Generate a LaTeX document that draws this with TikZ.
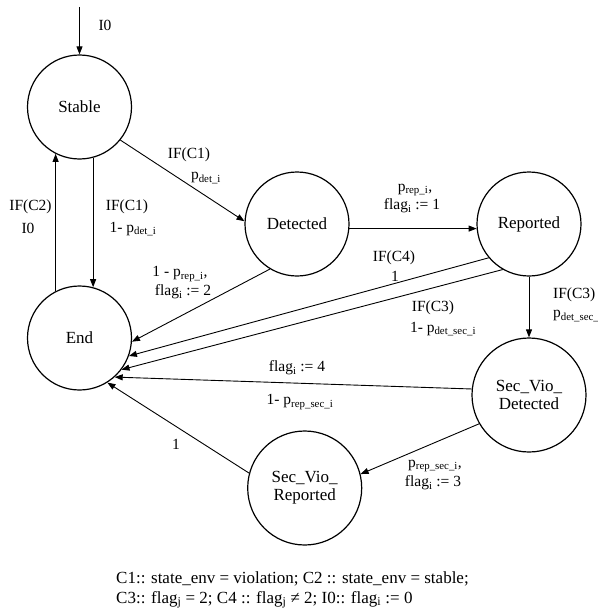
\documentclass[tikz,border=0pt]{standalone}
\usepackage{fontspec}
\setmainfont{Liberation Serif}
\usetikzlibrary{arrows.meta}

\newcommand{\idx}[1]{\textsubscript{#1}}

\begin{document}
\begin{tikzpicture}[x=1pt,y=-1pt,
    state/.style={draw,circle,line width=1.2pt,minimum size=104pt,inner sep=0pt,
        font=\fontsize{17}{18}\selectfont,align=center},
    bigstate/.style={state,minimum size=114pt},
    trans/.style={-{Triangle[length=8pt,width=6pt]},line width=0.9pt},
    lbl/.style={font=\fontsize{15.5}{17}\selectfont,inner sep=0pt}]
    \useasboundingbox (0,0) rectangle (597,610);

    % States
    \node[state] (stable) at (79.5,107) {Stable};
    \node[state] (endst) at (79.5,338) {End};
    \node[state] (detected) at (297,224) {Detected};
    \node[state] (reported) at (529,224) {Reported};
    \node[bigstate] (secdet) at (529,395) {Sec\_Vio\_\\Detected};
    \node[bigstate] (secrep) at (304.7,488) {Sec\_Vio\_\\Reported};

    % Initial transition
    \coordinate (init) at (79.5,7);
    \draw[trans] (init) -- (stable.north);
    \node[lbl] at (105,25) {I0};

    % Stable <-> End
    \draw[trans] (stable.-75) -- (endst.75);
    \draw[trans] (endst.117) -- (stable.-117);
    \node[lbl] at (30.5,207) {IF(C2)};
    \node[lbl] at (28,228) {I0};
    \node[lbl] at (127,207) {IF(C1)};
    \node[lbl] at (133,229) {1- p\idx{det\_i}};

    % Stable -> Detected
    \draw[trans] (stable.-39) -- (detected.177);
    \node[lbl] at (189,155) {IF(C1)};
    \node[lbl] at (206,178) {p\idx{det\_i}};

    % Detected -> Reported / End
    \draw[trans] (detected.-5) -- (reported.185);
    \node[lbl] at (415,190) {p\idx{rep\_i},};
    \node[lbl] at (412,206) {flag\idx{i} := 1};
    \draw[trans] (detected.-121) -- (endst.-4);
    \node[lbl] at (180,274) {1 - p\idx{rep\_i},};
    \node[lbl] at (183,292) {flag\idx{i} := 2};

    % Reported -> End
    \draw[trans] (reported.-140) -- (endst.-20);
    \node[lbl] at (394,258) {IF(C4)};
    \node[lbl] at (395,276) {1};
    \draw[trans] (reported.-120) -- (endst.-37);
    \node[lbl] at (433,308) {IF(C3)};
    \node[lbl] at (443,329) {1- p\idx{det\_sec\_i}};

    % Reported -> Sec_Vio_Detected
    \draw[trans] (reported.south) -- (secdet.north);
    \node[lbl,anchor=west] at (553,295) {IF(C3)};
    \node[lbl,anchor=west] at (553,316) {p\idx{det\_sec\_i}};

    % Sec_Vio_Detected -> End / Sec_Vio_Reported
    \draw[trans] (secdet.174) -- (endst.-48);
    \node[lbl] at (297,368) {flag\idx{i} := 4};
    \node[lbl] at (300,402) {1- p\idx{rep\_sec\_i}};
    \draw[trans] (secdet.-150) -- (secrep.14);
    \node[lbl] at (435,466) {p\idx{rep\_sec\_i},};
    \node[lbl] at (433,483) {flag\idx{i} := 3};

    % Sec_Vio_Reported -> End
    \draw[trans] (secrep.165) -- (endst.-58);
    \node[lbl] at (176,444) {1};

    % Conditions
    \node[anchor=west,inner sep=0pt,font=\fontsize{17}{20}\selectfont,align=left] (cond) at (116,590)
        {C1:: state\_env = violation; C2 :: state\_env = stable;\\
         C3:: flag\idx{j} = 2; C4 :: flag\idx{j} ≠ 2; I0:: flag\idx{i} := 0};
\end{tikzpicture}
\end{document}
